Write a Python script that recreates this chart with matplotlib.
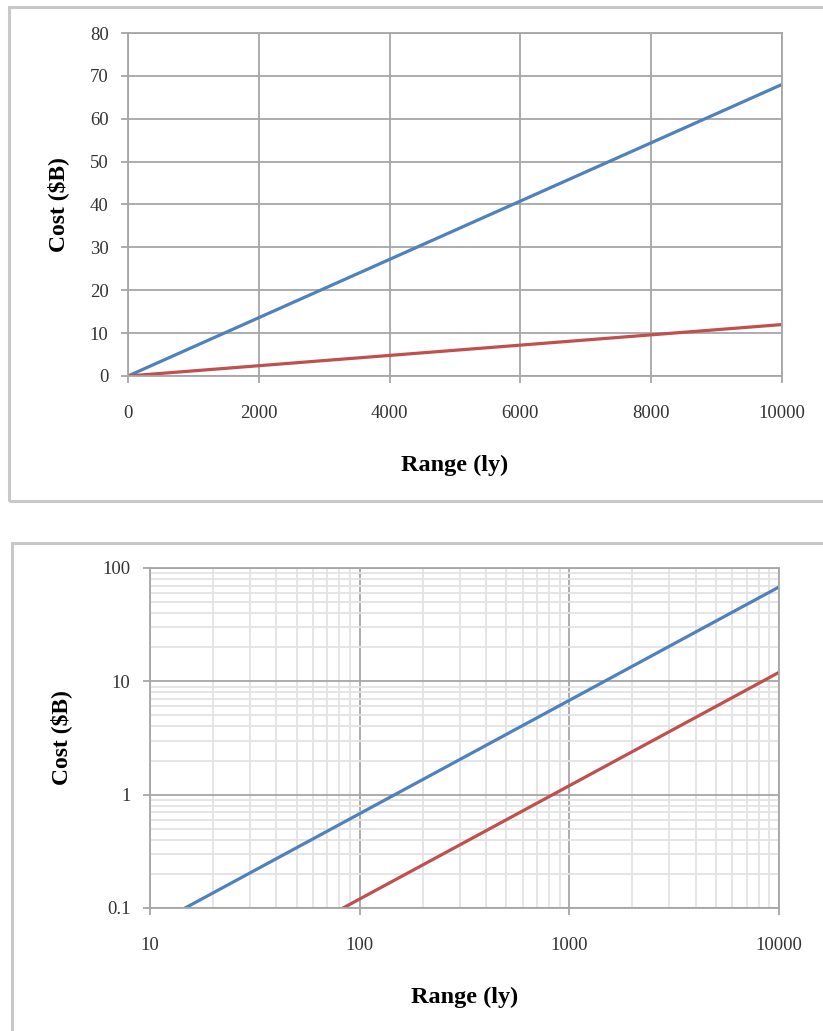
import numpy as np
import matplotlib.pyplot as plt
from matplotlib.patches import Rectangle
from matplotlib.ticker import LogLocator, FixedLocator, NullFormatter

# data
range_lin = [0, 2000, 4000, 6000, 8000, 10000]
blue_lin = [0, 13.6, 27.2, 40.8, 54.4, 68.0]
red_lin = [0, 2.4, 4.8, 7.2, 9.6, 12.0]

range_log = [10, 100, 1000, 10000]
blue_log = [0.068, 0.68, 6.8, 68.0]
red_log = [0.012, 0.12, 1.2, 12.0]

BLUE = '#4F81BD'
RED = '#C0504D'
W, H = 823, 1031

plt.rcParams['font.family'] = ['Liberation Serif', 'DejaVu Serif']

fig = plt.figure(figsize=(W / 100, H / 100), dpi=100)

# outer chart borders
fig.patches.append(Rectangle((9 / W, 530 / H), 830 / W, 494 / H, transform=fig.transFigure,
                             fill=False, edgecolor='#C8C8C8', linewidth=2.2))
fig.patches.append(Rectangle((12 / W, -10 / H), 830 / W, 498 / H, transform=fig.transFigure,
                             fill=False, edgecolor='#C8C8C8', linewidth=2.2))


def style_axes(ax, ylab_x, xlab_y):
    for s in ax.spines.values():
        s.set_color('#A6A6A6')
        s.set_linewidth(1.3)
    ax.tick_params(which='major', direction='out', length=5, width=1.3, color='#A6A6A6',
                   labelsize=13.5, labelcolor='#333333')
    ax.tick_params(axis='x', pad=16)
    ax.tick_params(axis='y', pad=9)
    ax.set_xlabel('Range (ly)', fontsize=17.5, fontweight='bold')
    ax.set_ylabel('Cost ($B)', fontsize=17, fontweight='bold')
    ax.yaxis.set_label_coords(ylab_x, 0.5)
    ax.xaxis.set_label_coords(0.5, xlab_y)


# ---------------- top: linear ----------------
ax1 = fig.add_axes([128 / W, (H - 376) / H, (782 - 128) / W, (376 - 33) / H])
ax1.plot(range_lin, blue_lin, color=BLUE, linewidth=2.3, solid_capstyle='butt')
ax1.plot(range_lin, red_lin, color=RED, linewidth=2.3, solid_capstyle='butt')
ax1.set_xlim(0, 10000)
ax1.set_ylim(0, 80)
ax1.set_xticks(np.arange(0, 10001, 2000))
ax1.set_yticks(np.arange(0, 81, 10))
ax1.grid(True, color='#A6A6A6', linewidth=1.3)
ax1.set_axisbelow(True)
style_axes(ax1, -0.090, -0.231)

# ---------------- bottom: log-log ----------------
ax2 = fig.add_axes([150 / W, (H - 908) / H, (779 - 150) / W, (908 - 568) / H])
ax2.plot(range_log, blue_log, color=BLUE, linewidth=2.3, solid_capstyle='butt')
ax2.plot(range_log, red_log, color=RED, linewidth=2.3, solid_capstyle='butt')
ax2.set_xscale('log')
ax2.set_yscale('log')
ax2.set_xlim(10, 10000)
ax2.set_ylim(0.1, 100)
ax2.xaxis.set_major_locator(FixedLocator([10, 100, 1000, 10000]))
ax2.yaxis.set_major_locator(FixedLocator([0.1, 1, 10, 100]))
ax2.set_xticklabels(['10', '100', '1000', '10000'])
ax2.set_yticklabels(['0.1', '1', '10', '100'])
ax2.xaxis.set_minor_locator(LogLocator(base=10, subs=np.arange(2, 10)))
ax2.yaxis.set_minor_locator(LogLocator(base=10, subs=np.arange(2, 10)))
ax2.xaxis.set_minor_formatter(NullFormatter())
ax2.yaxis.set_minor_formatter(NullFormatter())
ax2.tick_params(which='minor', length=0)
ax2.grid(True, which='minor', color='#E3E3E3', linewidth=1.3)
ax2.grid(True, which='major', color='#A6A6A6', linewidth=1.3)
ax2.set_axisbelow(True)
style_axes(ax2, -0.124, -0.233)

fig.savefig('out.png', dpi=100)
